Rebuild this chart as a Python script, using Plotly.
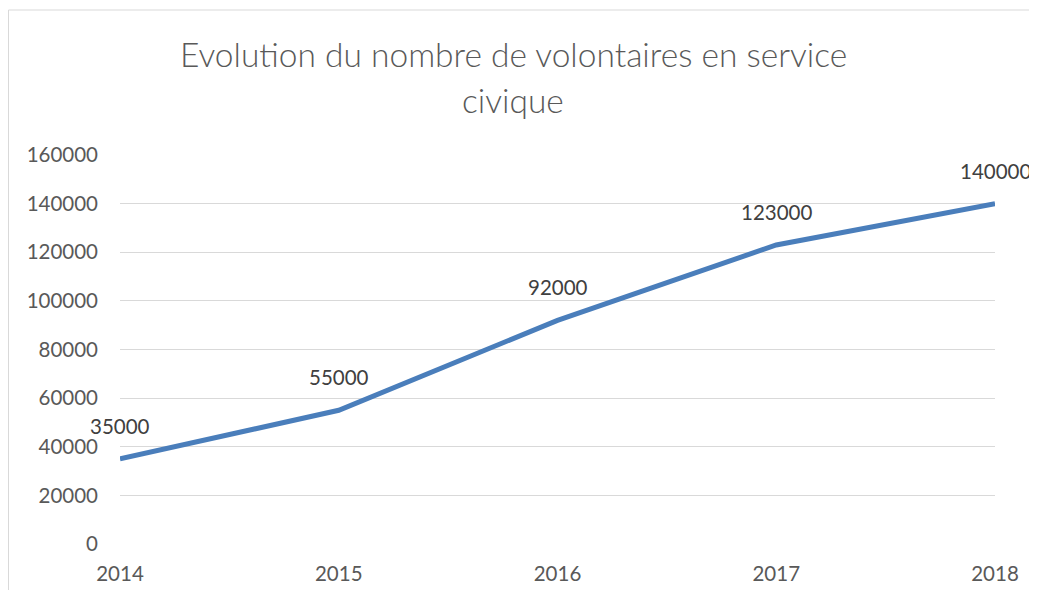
import plotly.graph_objects as go

years = [2014, 2015, 2016, 2017, 2018]
volontaires = [35000, 55000, 92000, 123000, 140000]
y_ticks = [0, 20000, 40000, 60000, 80000, 100000, 120000, 140000, 160000]
title_lines = ["Evolution du nombre de volontaires en service", "civique"]

# page body has an 8px margin; figure coordinates are offset by it
OFF = 8
W, H = 1029, 582
ml, mt = 120 - OFF, 155 - OFF
mr = (W + OFF) - 995
mb = (H + OFF) - 544
pw, ph = W - ml - mr, H - mt - mb

FONT = "Lato, Carlito, Calibri, sans-serif"

fig = go.Figure()
fig.add_trace(go.Scatter(
    x=years, y=volontaires, mode="lines",
    line=dict(color="#4a7ebb", width=5),
    hoverinfo="x+y", showlegend=False,
))

for x, y in zip(years, volontaires):
    fig.add_annotation(x=x, y=y, text=str(y), showarrow=False, yshift=33,
                       font=dict(family=FONT, size=20.5, color="#404040"))

title_cx = 513 - OFF
for line, cy in zip(title_lines, [54, 100]):
    fig.add_annotation(xref="paper", yref="paper",
                       x=(title_cx - ml) / pw, y=(H - mb - (cy - OFF)) / ph,
                       xanchor="center", yanchor="middle",
                       text=line, showarrow=False,
                       font=dict(family=FONT, size=33.5, color="#595959", weight=300))

# chart frame (left and top edges visible)
fx0 = (0.5 - ml) / pw
fy1 = (H - mb - (10 - OFF)) / ph
fig.add_shape(type="line", xref="paper", yref="paper",
              x0=fx0, x1=fx0, y0=(H - mb - H) / ph, y1=fy1,
              line=dict(color="#d9d9d9", width=1), layer="below")
fig.add_shape(type="line", xref="paper", yref="paper",
              x0=fx0, x1=(W - ml) / pw, y0=fy1, y1=fy1,
              line=dict(color="#d9d9d9", width=1), layer="below")

fig.update_layout(
    width=W, height=H,
    margin=dict(l=ml, r=mr, t=mt, b=mb, autoexpand=False),
    paper_bgcolor="white", plot_bgcolor="white",
    font=dict(family=FONT, size=20.5, color="#595959"),
    xaxis=dict(tickmode="array", tickvals=years, ticktext=[str(y) for y in years],
               range=[2014, 2018], showgrid=False, zeroline=False, showline=False,
               ticks="", ticklabelstandoff=15, automargin=False),
    yaxis=dict(tickmode="array", tickvals=y_ticks, ticktext=[str(v) for v in y_ticks],
               range=[0, 160000], showgrid=True, gridcolor="#d9d9d9", gridwidth=1,
               zeroline=False, showline=False, ticks="", ticklabelstandoff=21,
               automargin=False),
)

fig.write_html("out.html")
